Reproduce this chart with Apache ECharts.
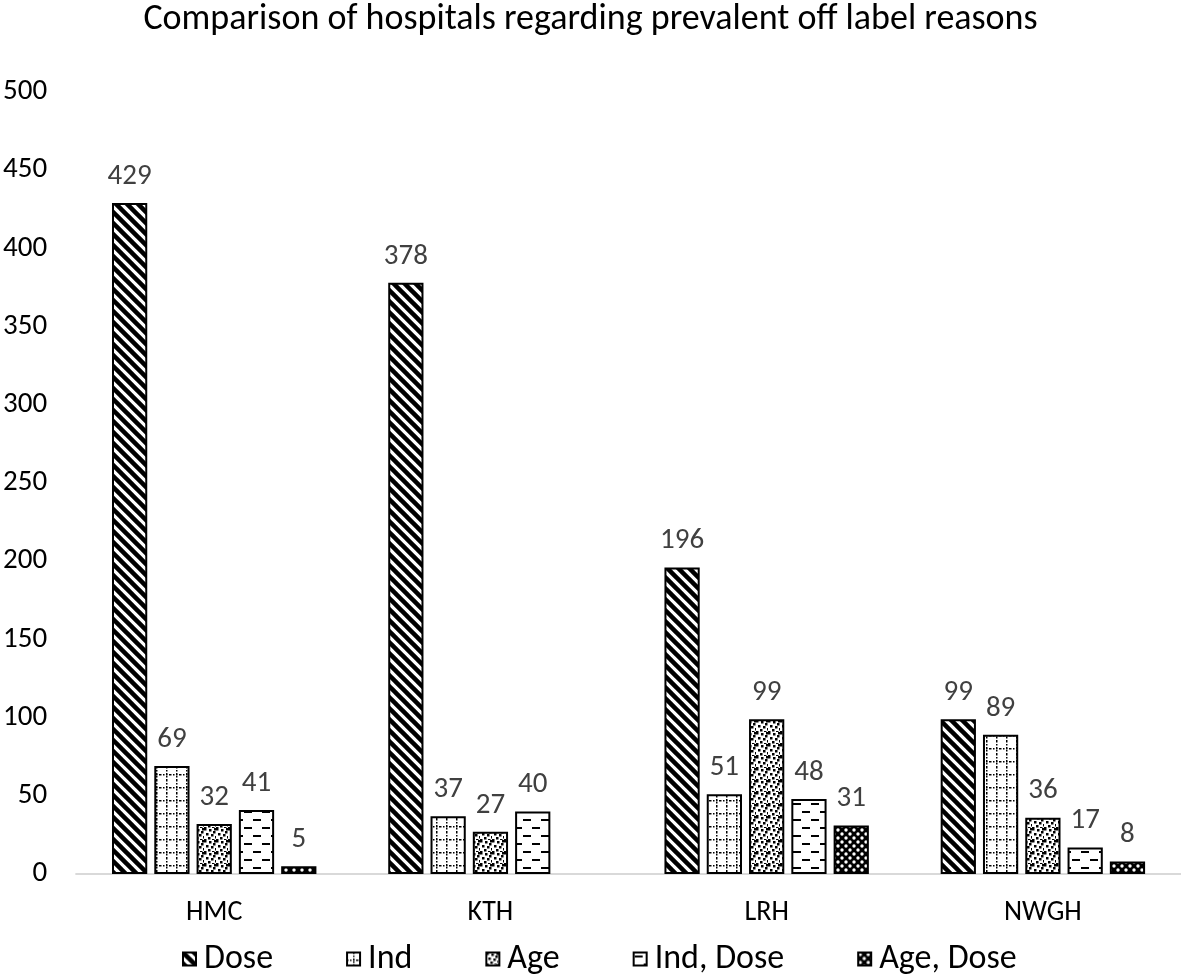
<!DOCTYPE html>
<html>
<head>
<meta charset="utf-8">
<script src="https://cdn.jsdelivr.net/npm/echarts@6/dist/echarts.min.js"></script>
<style>
html,body{margin:0;padding:0;background:#fff;}
#chart{width:1181px;height:976px;}
</style>
</head>
<body>
<div id="chart"></div>
<script>
const titleText = 'Comparison of hospitals regarding prevalent off label reasons';
const categories = ['HMC', 'KTH', 'LRH', 'NWGH'];
const seriesNames = ['Dose', 'Ind', 'Age', 'Ind, Dose', 'Age, Dose'];
const dose = [429, 378, 196, 99];
const ind = [69, 37, 51, 89];
const age = [32, 27, 99, 36];
const indDose = [41, 40, 48, 17];
const ageDose = [5, null, 31, 8];
const yTicks = [0, 50, 100, 150, 200, 250, 300, 350, 400, 450, 500];

function tile(w, h, draw) {
  const c = document.createElement('canvas');
  c.width = w; c.height = h;
  const ctx = c.getContext('2d');
  ctx.fillStyle = '#fff';
  ctx.fillRect(0, 0, w, h);
  ctx.fillStyle = '#000';
  ctx.strokeStyle = '#000';
  draw(ctx, w, h);
  return { image: c, repeat: 'repeat' };
}
const patDose = tile(11, 11, (ctx, w, h) => {
  ctx.lineWidth = 4.5;
  for (let k = -1; k <= 1; k++) {
    ctx.beginPath();
    ctx.moveTo(-2 + k * w, -2);
    ctx.lineTo(w + 2 + k * w, h + 2);
    ctx.stroke();
  }
});
const patInd = tile(10, 13, (ctx, w, h) => {
  for (let y = 0; y < h; y += 3) ctx.fillRect(6, y, 1.5, 1.5);
  for (let x = 0; x < w; x += 3) ctx.fillRect(x, 7, 1.5, 1.5);
});
const patAge = tile(12, 12, (ctx) => {
  const pts = [[0,0],[5,1],[9,3],[2,5],[7,6],[11,8],[4,9],[0,11],[8,11],[10,0]];
  pts.forEach(p => ctx.fillRect(p[0], p[1], 2.5, 2.5));
});
const patIndDose = tile(18, 16, (ctx) => {
  ctx.fillRect(1, 3, 8, 2);
  ctx.fillRect(10, 11, 8, 2);
});
const patAgeDose = tile(8, 8, (ctx, w, h) => {
  ctx.fillRect(0, 0, w, h);
  ctx.fillStyle = '#fff';
  ctx.beginPath(); ctx.arc(2, 2, 1.7, 0, Math.PI * 2); ctx.fill();
  ctx.beginPath(); ctx.arc(6, 6, 1.7, 0, Math.PI * 2); ctx.fill();
});
const patterns = [patDose, patInd, patAge, patIndDose, patAgeDose];
const values = [dose, ind, age, indDose, ageDose];

const FONT = 'Carlito, Lato, sans-serif';
const chart = echarts.init(document.getElementById('chart'));
chart.setOption({
  animation: false,
  backgroundColor: '#fff',
  title: {
    text: titleText, left: 'center', top: -3,
    textStyle: { fontFamily: FONT, fontSize: 36, fontWeight: 'normal', color: '#000' }
  },
  legend: {
    data: seriesNames, left: 177, bottom: -5, itemWidth: 13, itemHeight: 13, itemGap: 73,
    icon: 'rect',
    textStyle: { fontFamily: FONT, fontSize: 34, color: '#000', padding: [0, 0, 0, 3] }
  },
  grid: { left: 75, right: 0, top: 92, bottom: 102, containLabel: false },
  xAxis: {
    type: 'category', data: categories,
    axisLine: { lineStyle: { color: '#d9d9d9', width: 2 } },
    axisTick: { show: false },
    axisLabel: { fontFamily: FONT, fontSize: 28, color: '#000', margin: 25 }
  },
  yAxis: {
    type: 'value', min: yTicks[0], max: yTicks[yTicks.length - 1], interval: yTicks[1] - yTicks[0],
    splitLine: { show: false }, axisLine: { show: false }, axisTick: { show: false },
    axisLabel: { fontFamily: FONT, fontSize: 29, color: '#000', margin: 29 }
  },
  series: seriesNames.map((n, i) => ({
    name: n, type: 'bar', data: values[i],
    barGap: '20%', barCategoryGap: '26%',
    itemStyle: { color: patterns[i], borderColor: '#000', borderWidth: 2 },
    label: { show: true, position: 'top', distance: 12, fontFamily: FONT, fontSize: 29, color: '#404040' }
  }))
});
</script>
</body>
</html>
